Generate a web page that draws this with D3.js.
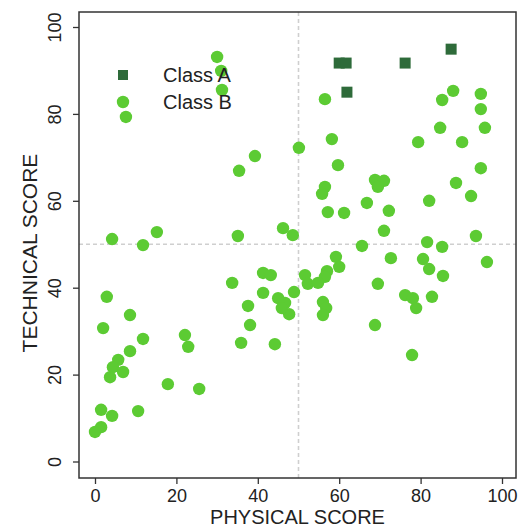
<!DOCTYPE html>
<html>
<head>
<meta charset="utf-8">
<script src="https://cdn.jsdelivr.net/npm/d3@7"></script>
<style>
  body { margin: 0; background: #fff; }
  svg text { font-family: "Liberation Sans", Arial, sans-serif; fill: #222; }
</style>
</head>
<body>
<div class="chart"></div>
<script>
const W = 520, H = 529

// class A: [physical, technical]
const class_a = [
    [60.0, 91.7], [61.7, 91.7], [76.2, 91.7], [87.5, 94.9], [61.9, 85.0]
]

// class B: [physical, technical]
const class_b = [
    [30.0, 93.1], [31.0, 89.9], [31.2, 85.5], [7.6, 79.3], [39.3, 70.3],
    [35.4, 66.9], [50.1, 72.2], [56.5, 83.4], [85.3, 83.2], [88.0, 85.3],
    [94.8, 84.6], [94.8, 81.1], [95.8, 76.8], [84.8, 76.8], [90.2, 73.5],
    [79.4, 73.5], [58.2, 74.2], [59.7, 68.2], [94.8, 67.5], [68.8, 64.8],
    [71.0, 64.6], [69.5, 63.2], [56.5, 63.2], [55.8, 61.6], [88.7, 64.1],
    [92.4, 61.1], [82.1, 60.0], [66.8, 59.5], [57.2, 57.4], [61.2, 57.2],
    [72.2, 57.7], [71.0, 53.1], [48.6, 52.1], [46.2, 53.7], [35.1, 51.9],
    [15.2, 52.8], [11.8, 49.8], [4.2, 51.2], [93.6, 51.9], [81.6, 50.5],
    [85.3, 49.4], [65.6, 49.6], [59.2, 47.1], [72.7, 46.8], [80.6, 46.6],
    [96.3, 45.9], [60.0, 44.8], [82.1, 44.3], [85.5, 42.7], [57.0, 43.8],
    [56.5, 42.5], [51.6, 42.9], [52.3, 40.9], [54.8, 41.1], [48.9, 39.0],
    [69.5, 40.9], [76.2, 38.3], [78.1, 37.6], [82.8, 37.9], [78.9, 35.3],
    [56.0, 36.7], [56.8, 35.3], [56.0, 33.7], [47.7, 33.9], [68.8, 31.4],
    [77.9, 24.5], [41.3, 43.4], [43.2, 42.9], [33.7, 41.1], [41.3, 38.8],
    [45.0, 37.6], [46.7, 36.5], [45.9, 35.3], [37.6, 35.8], [38.1, 31.4],
    [35.9, 27.3], [44.2, 27.0], [2.9, 37.9], [8.6, 33.7], [2.0, 30.7],
    [11.8, 28.2], [22.1, 29.1], [22.9, 26.4], [8.6, 25.4], [5.7, 23.4],
    [4.4, 21.7], [6.9, 20.6], [3.7, 19.4], [17.9, 17.8], [25.6, 16.7],
    [1.5, 11.9], [4.2, 10.5], [10.6, 11.6], [1.5, 7.9], [0.0, 6.8]
]

const ticks = [0, 20, 40, 60, 80, 100]
const ref_lines = { x: 50, y: 50 }
const legend_items = ["Class A", "Class B"]

const colors = { a: "#2e6b3a", b: "#5ccb33" }

// plot box and scales
const box = { left: 79, right: 516, top: 12, bottom: 478 }
const x = d3.scaleLinear().domain([0, 100]).range([95, 502])
const y = d3.scaleLinear().domain([0, 100]).range([461.5, 27])

const svg = d3.select(".chart")
    .append("svg")
    .attr("width", W)
    .attr("height", H)

// dashed reference lines
svg.append("line")
    .attr("x1", x(ref_lines.x)).attr("x2", x(ref_lines.x))
    .attr("y1", box.top).attr("y2", box.bottom)
    .attr("stroke", "#cfcfcf").attr("stroke-width", 1.6)
    .attr("stroke-dasharray", "4,3")

svg.append("line")
    .attr("x1", box.left).attr("x2", box.right)
    .attr("y1", y(ref_lines.y)).attr("y2", y(ref_lines.y))
    .attr("stroke", "#cfcfcf").attr("stroke-width", 1.6)
    .attr("stroke-dasharray", "4,3")

// points
svg.append("g")
    .attr("id", "class-b")
    .selectAll("circle")
    .data(class_b)
    .enter()
    .append("circle")
    .attr("cx", d => x(d[0]))
    .attr("cy", d => y(d[1]))
    .attr("r", 6.2)
    .attr("fill", colors.b)

svg.append("g")
    .attr("id", "class-a")
    .selectAll("rect")
    .data(class_a)
    .enter()
    .append("rect")
    .attr("x", d => x(d[0]) - 5.5)
    .attr("y", d => y(d[1]) - 5.5)
    .attr("width", 11)
    .attr("height", 11)
    .attr("fill", colors.a)

// axes
const x_axis = svg.append("g")
    .attr("transform", `translate(0,${box.bottom})`)
    .call(d3.axisBottom(x).tickValues(ticks).tickSize(6).tickPadding(4))
x_axis.select(".domain").remove()
x_axis.selectAll("text").attr("font-size", 18).attr("dy", "0.75em")

const y_axis = svg.append("g")
    .attr("transform", `translate(${box.left},0)`)
    .call(d3.axisLeft(y).tickValues(ticks).tickSize(6))
y_axis.select(".domain").remove()
y_axis.selectAll("text")
    .attr("font-size", 18)
    .attr("x", null).attr("dy", null)
    .attr("text-anchor", "middle")
    .attr("transform", "translate(-18,0) rotate(-90)")
svg.selectAll(".tick line").attr("stroke", "#333").attr("stroke-width", 1.3)

svg.append("rect")
    .attr("x", box.left).attr("y", box.top)
    .attr("width", box.right - box.left)
    .attr("height", box.bottom - box.top)
    .attr("fill", "none")
    .attr("stroke", "#333")
    .attr("stroke-width", 1.5)

// axis titles
svg.append("text")
    .attr("x", (box.left + box.right) / 2)
    .attr("y", 524)
    .attr("text-anchor", "middle")
    .attr("font-size", 20)
    .text("PHYSICAL SCORE")

svg.append("text")
    .attr("transform", `translate(37,${(box.top + box.bottom) / 2 + 8}) rotate(-90)`)
    .attr("text-anchor", "middle")
    .attr("font-size", 21)
    .text("TECHNICAL SCORE")

// legend
const legend = svg.append("g").attr("id", "legend")
legend.append("rect")
    .attr("x", 118).attr("y", 70).attr("width", 10).attr("height", 10)
    .attr("fill", colors.a)
legend.append("circle")
    .attr("cx", 123).attr("cy", 102).attr("r", 6.2)
    .attr("fill", colors.b)
legend.selectAll("text.label")
    .data(legend_items)
    .enter()
    .append("text")
    .attr("class", "label")
    .attr("x", 163)
    .attr("y", (d, i) => 82 + i * 27)
    .attr("font-size", 20)
    .text(d => d)
</script>
</body>
</html>
